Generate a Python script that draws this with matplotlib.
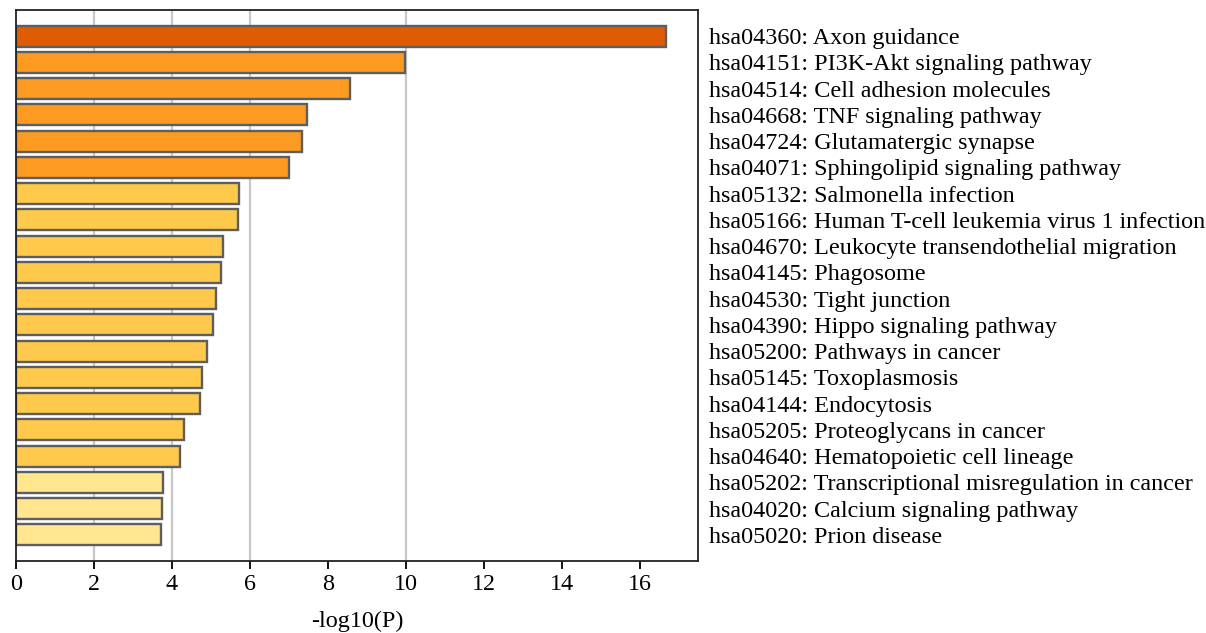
import matplotlib
matplotlib.use("Agg")
import matplotlib.pyplot as plt

# Enriched KEGG pathways and their -log10(P) scores
terms = [
    "hsa04360: Axon guidance",
    "hsa04151: PI3K-Akt signaling pathway",
    "hsa04514: Cell adhesion molecules",
    "hsa04668: TNF signaling pathway",
    "hsa04724: Glutamatergic synapse",
    "hsa04071: Sphingolipid signaling pathway",
    "hsa05132: Salmonella infection",
    "hsa05166: Human T-cell leukemia virus 1 infection",
    "hsa04670: Leukocyte transendothelial migration",
    "hsa04145: Phagosome",
    "hsa04530: Tight junction",
    "hsa04390: Hippo signaling pathway",
    "hsa05200: Pathways in cancer",
    "hsa05145: Toxoplasmosis",
    "hsa04144: Endocytosis",
    "hsa05205: Proteoglycans in cancer",
    "hsa04640: Hematopoietic cell lineage",
    "hsa05202: Transcriptional misregulation in cancer",
    "hsa04020: Calcium signaling pathway",
    "hsa05020: Prion disease",
]
neg_log_p = [16.69, 9.98, 8.58, 7.46, 7.33, 7.00, 5.72, 5.69, 5.31, 5.27,
             5.12, 5.06, 4.90, 4.78, 4.71, 4.32, 4.22, 3.77, 3.74, 3.71]

# Significance bands used to colour the bars
bands = [
    (10.0, "#E05C02"),
    (6.0, "#FD9A22"),
    (4.0, "#FFC94B"),
    (0.0, "#FFE68F"),
]

def band_color(v):
    for lo, c in bands:
        if v >= lo:
            return c
    return bands[-1][1]

grid_values = [2, 4, 6, 10]
x_ticks = [0, 2, 4, 6, 8, 10, 12, 14, 16]

plt.rcParams["font.family"] = ["Liberation Serif", "DejaVu Serif"]
FS = 17.4

fig = plt.figure(figsize=(12.06, 6.33), dpi=100)
W, H = 1206, 633
ax = fig.add_axes([16 / W, 1 - 561 / H, (698 - 16) / W, (561 - 10) / H])

for g in grid_values:
    ax.axvline(g, color="#C8C8C8", lw=1.6, zorder=0)

ypos = list(range(len(terms)))
ax.barh(ypos, neg_log_p, height=0.8,
        color=[band_color(v) for v in neg_log_p],
        edgecolor="#5E5E5E", linewidth=1.7, zorder=2)

ax.set_xlim(0, 17.5)
ax.set_ylim(len(terms), -1)

ax.set_yticks(ypos)
ax.set_yticklabels(terms, fontsize=FS)
ax.yaxis.tick_right()
ax.tick_params(axis="y", length=0, pad=8)

ax.set_xticks(x_ticks)
ax.set_xticklabels([str(t) for t in x_ticks], fontsize=FS)
ax.tick_params(axis="x", length=6, width=1.3, direction="out", pad=3)
ax.set_xlabel("-log10(P)", fontsize=FS, labelpad=12)

for s in ax.spines.values():
    s.set_linewidth(1.3)
    s.set_color("#222222")

fig.savefig("out.png", dpi=100, facecolor="white")
